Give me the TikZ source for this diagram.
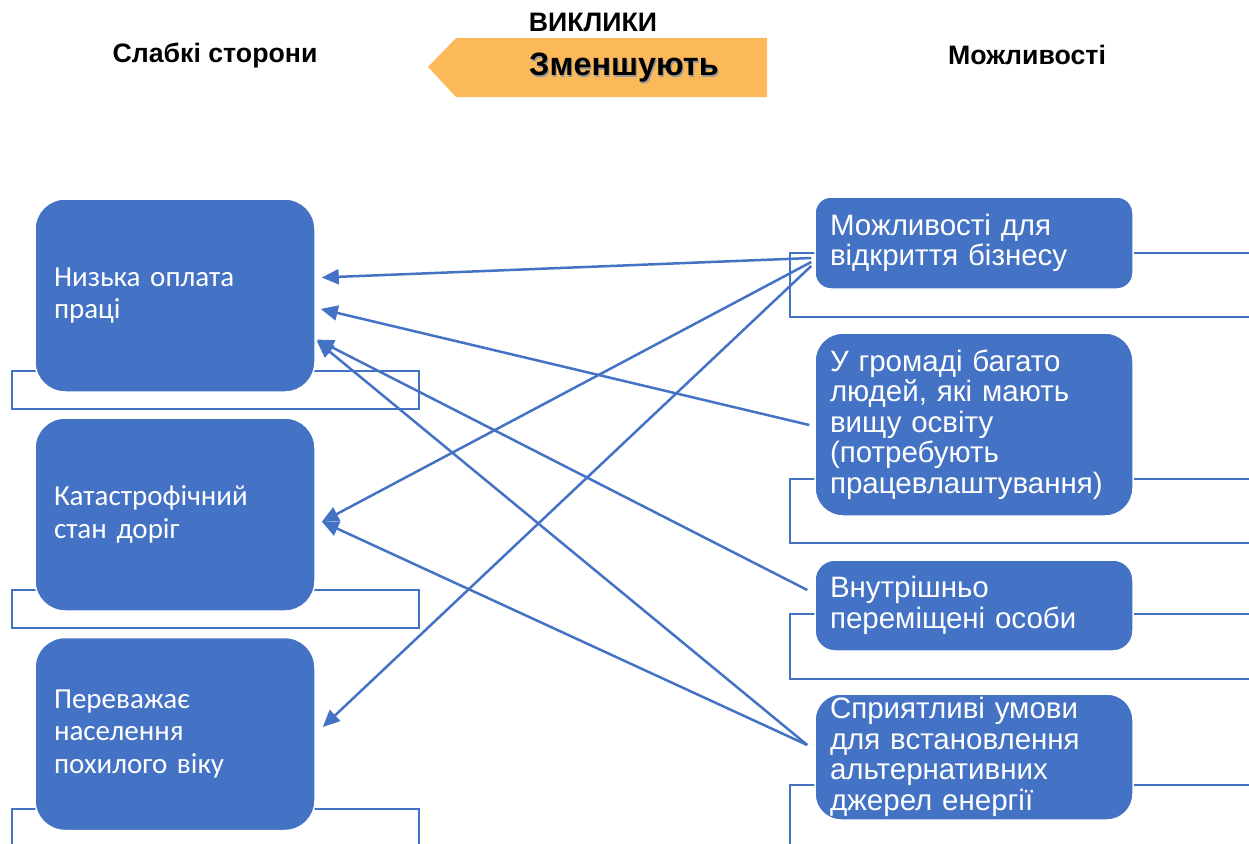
\documentclass[tikz,border=0pt]{standalone}
\usepackage{fontspec}
\setmainfont{Liberation Sans}
\newfontfamily\calib{Carlito}
\usetikzlibrary{arrows.meta,calc}
\definecolor{bl}{HTML}{4472C4}
\definecolor{orng}{HTML}{FBB95A}
\begin{document}
\begin{tikzpicture}[x=1pt,y=-1pt,
 lbox/.style={fill=bl, draw=white, line width=1.5pt, rounded corners=30pt, minimum height=193pt, text width=242pt, align=left, text=white, font=\calib\fontsize{29}{32.5}\selectfont, inner xsep=19pt, inner ysep=0pt},
 rbox/.style={fill=bl, draw=white, line width=1.5pt, rounded corners=20pt, text width=288pt, align=left, text=white, font=\fontsize{29.5}{30.5}\selectfont, inner xsep=15pt, inner ysep=0pt},
 frame/.style={draw=bl, line width=2.3pt},
 arr/.style={draw=bl, line width=2.5pt, -{Triangle[length=17pt,width=15pt]}},
 head/.style={font=\bfseries\fontsize{26.7}{30}\selectfont, text=black}
]
\useasboundingbox (0,0) rectangle (1249,843);
% titles
\node[head] (t) at (593,22) {ВИКЛИКИ};
\node[head] (ls) at (215,55) {Слабкі сторони};
\node[head] (rs) at (1027,55) {Можливості};
% orange arrow banner
\fill[orng] (428,67) -- (456,38) -- (767,38) -- (767,97) -- (456,97) -- cycle;
\node[font=\bfseries\fontsize{32.4}{36}\selectfont, text=black!40] at (625.2,69.2) {Зменшують};
\node[font=\bfseries\fontsize{32.4}{36}\selectfont, text=black] (z) at (624,68) {Зменшують};
% frames
\draw[frame] (12,371) rectangle (419,409);
\draw[frame] (12,590) rectangle (419,628);
\draw[frame] (12,850) -- (12,809) -- (419,809) -- (419,850);
\draw[frame] (1255,253) -- (790,253) -- (790,317) -- (1255,317);
\draw[frame] (1255,479) -- (790,479) -- (790,543) -- (1255,543);
\draw[frame] (1255,614) -- (790,614) -- (790,679) -- (1255,679);
\draw[frame] (1255,785) -- (790,785) -- (790,850);
% left boxes
\node[lbox] (L1) at (175,295.5) {Низька оплата\\праці};
\node[lbox] (L2) at (175,514.5) {Катастрофічний\\стан доріг};
\node[lbox] (L3) at (175,734) {Переважає\\населення\\похилого віку};
% right boxes
\node[rbox, minimum height=92pt, rounded corners=16pt] (R1) at (974,243) {Можливості для\\відкриття бізнесу};
\node[rbox, minimum height=183pt, rounded corners=28pt] (R2) at (974,424.5) {У громаді багато\\людей, які мають\\вищу освіту\\(потребують\\працевлаштування)};
\node[rbox, minimum height=91pt, rounded corners=20pt] (R3) at (974,605.5) {Внутрішньо\\переміщені особи};
\node[rbox, minimum height=126pt, rounded corners=26pt] (R4) at (974,757) {Сприятливі умови\\для встановлення\\альтернативних\\джерел енергії};
% connectors
\draw[arr] ($(R1.west)+(-3,15)$) -- ($(L1.east)+(6,-18)$);
\draw[arr] ($(R1.west)+(-3,19)$) -- ($(L2.east)+(6,7.5)$);
\draw[arr] ($(R1.west)+(-3,23)$) -- ($(L3.east)+(7,-7)$);
\draw[arr] ($(R2.west)+(-5,0.5)$) -- ($(L1.east)+(5,13.5)$);
\draw[arr] ($(R3.west)+(-7,-15.5)$) -- ($(L1.east)+(1,44)$);
\draw[arr] ($(R4.west)+(-7,-12)$) -- ($(L1.east)+(1,45.5)$);
\draw[arr] ($(R4.west)+(-7,-12)$) -- ($(L2.east)+(6,7)$);
\end{tikzpicture}
\end{document}
